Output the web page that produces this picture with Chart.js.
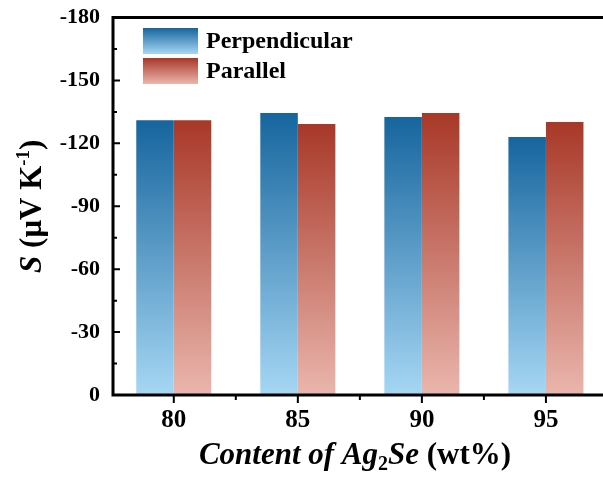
<!DOCTYPE html>
<html>
<head>
<meta charset="utf-8">
<script src="https://cdn.jsdelivr.net/npm/chart.js@4.4.1/dist/chart.umd.min.js"></script>
<style>
  html, body { margin: 0; padding: 0; background: #fff; overflow: hidden; }
  #wrap { width: 603px; height: 482px; }
</style>
</head>
<body>
<div id="wrap"><canvas id="myChart" width="603" height="482"></canvas></div>
<script>
// data
const contents = [80, 85, 90, 95];
const perpendicular = [-131, -134.5, -132.5, -123];
const parallel = [-131, -129.2, -134.5, -130.2];
const yTicks = [-180, -150, -120, -90, -60, -30, 0];

const FONT = "'Liberation Serif', 'Times New Roman', serif";
const blueTop = 'rgb(22,101,158)', blueBot = 'rgb(166,215,244)';
const redTop = 'rgb(168,56,40)', redBot = 'rgb(234,182,173)';

function barGradient(top, bot) {
    return function(context) {
        const chart = context.chart;
        const y = chart.scales.y;
        if (context.type !== 'data' || !y || !chart.chartArea) return top;
        const yTop = y.getPixelForValue(context.raw.y);
        const yBase = y.getPixelForValue(0);
        if (!isFinite(yTop) || !isFinite(yBase) || yTop === yBase) return top;
        const g = chart.ctx.createLinearGradient(0, yTop, 0, yBase);
        g.addColorStop(0, top);
        g.addColorStop(1, bot);
        return g;
    };
}

// axes, ticks, titles and legend drawn by hand
const decor = {
    id: 'decor',
    afterDraw(chart) {
        const ctx = chart.ctx;
        const a = chart.chartArea;
        const xs = chart.scales.x, ys = chart.scales.y;
        ctx.save();
        ctx.strokeStyle = '#000';
        ctx.lineWidth = 3;
        ctx.lineCap = 'butt';
        // frame: left, bottom, top
        ctx.beginPath();
        ctx.moveTo(a.left, a.top - 1.5); ctx.lineTo(a.left, a.bottom + 1.5);
        ctx.moveTo(a.left - 1.5, a.bottom); ctx.lineTo(a.right + 20, a.bottom);
        ctx.moveTo(a.left - 1.5, a.top); ctx.lineTo(a.right + 20, a.top);
        ctx.stroke();
        ctx.lineWidth = 2;
        ctx.beginPath();
        // y ticks point inward
        for (let v = -180; v <= 0; v += 15) {
            const py = ys.getPixelForValue(v);
            const len = (v % 30 === 0) ? 7 : 4;
            ctx.moveTo(a.left, py); ctx.lineTo(a.left + len, py);
        }
        // x ticks point outward
        for (let i = 0; i < contents.length; i++) {
            let px = xs.getPixelForValue(contents[i]);
            ctx.moveTo(px, a.bottom); ctx.lineTo(px, a.bottom + 8);
            px = xs.getPixelForValue(contents[i] + 2.5);
            if (px < a.right) { ctx.moveTo(px, a.bottom); ctx.lineTo(px, a.bottom + 5); }
        }
        ctx.stroke();

        // x title with subscript
        ctx.fillStyle = '#000';
        ctx.textBaseline = 'alphabetic';
        ctx.textAlign = 'left';
        const parts = [
            {t: 'Content of Ag', f: 'italic bold 31px ' + FONT, dy: 0},
            {t: '2', f: 'bold 20px ' + FONT, dy: 6},
            {t: 'Se', f: 'italic bold 31px ' + FONT, dy: 0},
            {t: ' (wt%)', f: 'bold 31px ' + FONT, dy: 0}
        ];
        let w = 0;
        parts.forEach(p => { ctx.font = p.f; p.w = ctx.measureText(p.t).width; w += p.w; });
        let x = 355 - w / 2;
        parts.forEach(p => { ctx.font = p.f; ctx.fillText(p.t, x, 464 + p.dy); x += p.w; });

        // y title, rotated, with superscript
        ctx.save();
        ctx.translate(41, (a.top + a.bottom) / 2);
        ctx.rotate(-Math.PI / 2);
        const yparts = [
            {t: 'S', f: 'italic bold 31px ' + FONT, dy: 0},
            {t: ' (\u03bcV K', f: 'bold 31px ' + FONT, dy: 0},
            {t: '-1', f: 'bold 19px ' + FONT, dy: -12},
            {t: ')', f: 'bold 31px ' + FONT, dy: 0}
        ];
        w = 0;
        yparts.forEach(p => { ctx.font = p.f; p.w = ctx.measureText(p.t).width; w += p.w; });
        x = -w / 2;
        yparts.forEach(p => { ctx.font = p.f; ctx.fillText(p.t, x, p.dy); x += p.w; });
        ctx.restore();

        // legend
        const items = [
            {label: chart.data.datasets[0].label, top: blueTop, bot: blueBot, y: 28},
            {label: chart.data.datasets[1].label, top: redTop, bot: redBot, y: 58}
        ];
        ctx.font = 'bold 24px ' + FONT;
        ctx.textBaseline = 'middle';
        items.forEach(it => {
            const g = ctx.createLinearGradient(0, it.y, 0, it.y + 26);
            g.addColorStop(0, it.top);
            g.addColorStop(1, it.bot);
            ctx.fillStyle = g;
            ctx.fillRect(143, it.y, 55, 26);
            ctx.fillStyle = '#000';
            ctx.fillText(it.label, 206, it.y + 14);
        });
        ctx.restore();
    }
};

const ctx = document.getElementById('myChart').getContext('2d');
const myChart = new Chart(ctx, {
    type: 'bar',
    data: {
        datasets: [
            {
                label: 'Perpendicular',
                data: contents.map((c, i) => ({x: c, y: perpendicular[i]})),
                backgroundColor: barGradient(blueTop, blueBot),
                borderWidth: 0
            },
            {
                label: 'Parallel',
                data: contents.map((c, i) => ({x: c, y: parallel[i]})),
                backgroundColor: barGradient(redTop, redBot),
                borderWidth: 0
            }
        ]
    },
    options: {
        responsive: false,
        animation: false,
        devicePixelRatio: 1,
        categoryPercentage: 0.605,
        barPercentage: 1,
        layout: { padding: { left: 0, top: 17.5, right: 0, bottom: 0 } },
        plugins: {
            legend: { display: false },
            tooltip: { enabled: false }
        },
        scales: {
            x: {
                type: 'linear',
                offset: false,
                min: 77.55,
                max: 97.3,
                afterBuildTicks: function(scale) {
                    scale.ticks = contents.map(v => ({value: v}));
                },
                grid: { display: false, drawTicks: false, offset: false },
                border: { display: false },
                ticks: {
                    padding: 11,
                    color: '#000',
                    font: { family: FONT, size: 25, weight: 'bold' },
                    callback: v => String(v)
                },
                afterFit: function(scale) {
                    scale.height = 87;
                    scale.paddingLeft = 0;
                    scale.paddingRight = 0;
                }
            },
            y: {
                reverse: true,
                min: -180,
                max: 0,
                afterBuildTicks: function(scale) {
                    scale.ticks = yTicks.map(v => ({value: v}));
                },
                grid: { display: false, drawTicks: false },
                border: { display: false },
                ticks: {
                    padding: 13,
                    color: '#000',
                    font: { family: FONT, size: 22, weight: 'bold' },
                    callback: v => String(v)
                },
                afterFit: function(scale) {
                    scale.width = 113;
                    scale.paddingTop = 0;
                    scale.paddingBottom = 0;
                }
            }
        }
    },
    plugins: [decor]
});
</script>
</body>
</html>
